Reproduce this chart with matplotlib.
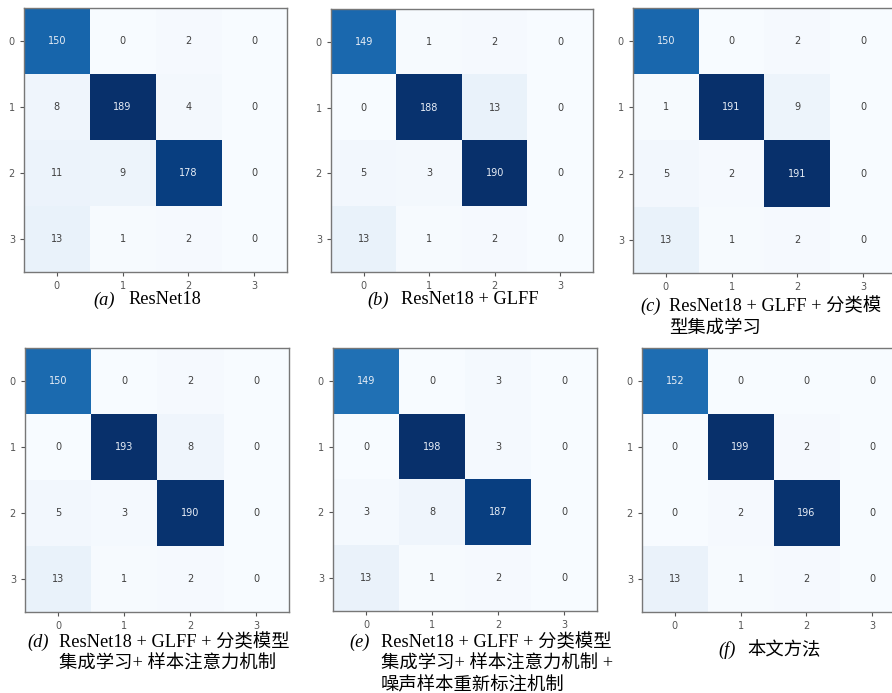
import numpy as np
import matplotlib
matplotlib.use("Agg")
import matplotlib.pyplot as plt

W, H = 892, 693
classes = [0, 1, 2, 3]

cm_a = [[150, 0, 2, 0], [8, 189, 4, 0], [11, 9, 178, 0], [13, 1, 2, 0]]
cm_b = [[149, 1, 2, 0], [0, 188, 13, 0], [5, 3, 190, 0], [13, 1, 2, 0]]
cm_c = [[150, 0, 2, 0], [1, 191, 9, 0], [5, 2, 191, 0], [13, 1, 2, 0]]
cm_d = [[150, 0, 2, 0], [0, 193, 8, 0], [5, 3, 190, 0], [13, 1, 2, 0]]
cm_e = [[149, 0, 3, 0], [0, 198, 3, 0], [3, 8, 187, 0], [13, 1, 2, 0]]
cm_f = [[152, 0, 0, 0], [0, 199, 2, 0], [0, 2, 196, 0], [13, 1, 2, 0]]

letters = ["a", "b", "c", "d", "e", "f"]
captions = [
    ["ResNet18"],
    ["ResNet18 + GLFF"],
    ["ResNet18 + GLFF + 分类模", "型集成学习"],
    ["ResNet18 + GLFF + 分类模型", "集成学习+ 样本注意力机制"],
    ["ResNet18 + GLFF + 分类模型", "集成学习+ 样本注意力机制 +", "噪声样本重新标注机制"],
    ["本文方法"],
]
matrices = [cm_a, cm_b, cm_c, cm_d, cm_e, cm_f]

# axes boxes in pixels: left, top, right, bottom
boxes = [
    (24, 8, 287, 272),
    (331, 9, 593, 272),
    (633, 8, 896, 273),
    (25, 348, 289, 612),
    (333, 348, 597, 611),
    (642, 348, 905, 612),
]
# caption placement: x of "(x)", x of text, y of first line (pixel centers)
cap_pos = [
    (93, 128, 300),
    (367, 401, 300),
    (640, 669, 306),
    (27, 59, 642),
    (349, 381, 642),
    (718, 747, 650),
]
line_gap = 22

fig = plt.figure(figsize=(W / 100, H / 100), dpi=100)
fig.patch.set_facecolor("white")
cmap = plt.get_cmap("Blues")
serif = ["Liberation Serif", "Noto Sans CJK SC"]

for cm, (l, t, r, b), letter, cap, (xl, xt, yc) in zip(matrices, boxes, letters, captions, cap_pos):
    cm = np.array(cm)
    ax = fig.add_axes([l / W, 1 - b / H, (r - l) / W, (b - t) / H])
    ax.imshow(cm, cmap=cmap, vmin=0, vmax=cm.max(), aspect="auto", interpolation="nearest")
    thresh = cm.max() / 2
    for i in range(cm.shape[0]):
        for j in range(cm.shape[1]):
            ax.text(j, i, str(cm[i, j]), ha="center", va="center", fontsize=7,
                    color="#e8eef6" if cm[i, j] > thresh else "#3f3f3f")
    ax.set_xticks(range(len(classes)))
    ax.set_yticks(range(len(classes)))
    ax.set_xticklabels(classes)
    ax.set_yticklabels(classes)
    ax.tick_params(labelsize=7, colors="#555555", length=3, width=0.8)
    for s in ax.spines.values():
        s.set_color("#777777")
        s.set_linewidth(1.0)
    fig.text(xl / W, 1 - yc / H, f"({letter})", fontsize=13.2, family="Liberation Serif",
             style="italic", ha="left", va="center")
    for k, line in enumerate(cap):
        fig.text(xt / W, 1 - (yc + k * line_gap) / H, line, fontsize=13.2, family=serif,
                 ha="left", va="center")

fig.savefig("out.png", dpi=100, facecolor="white")
